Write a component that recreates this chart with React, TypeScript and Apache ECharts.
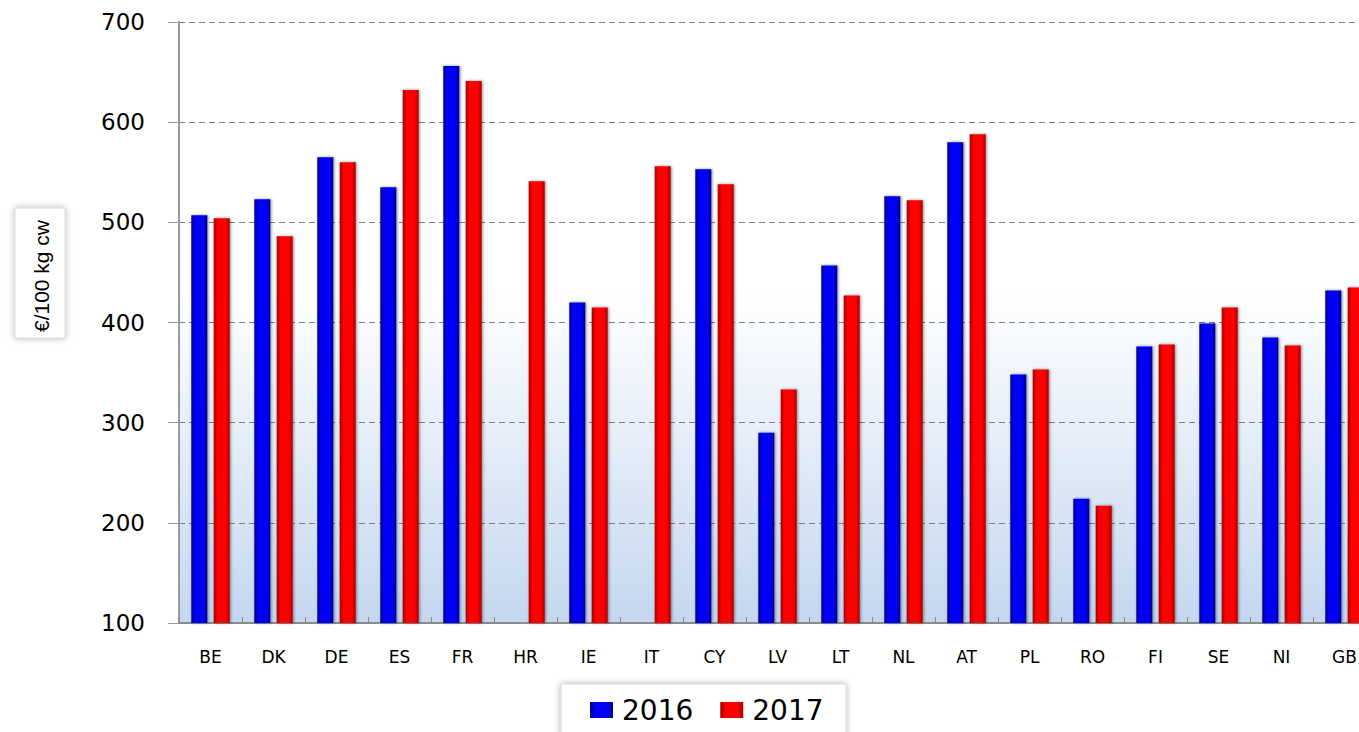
import React, { useEffect, useRef } from "react";
import * as echarts from "echarts";

const categories = ["BE", "DK", "DE", "ES", "FR", "HR", "IE", "IT", "CY", "LV", "LT", "NL", "AT", "PL", "RO", "FI", "SE", "NI", "GB"];
const values2016: (number | null)[] = [507, 523, 565, 535, 656, null, 420, null, 553, 290, 457, 526, 580, 348, 224, 376, 399, 385, 432];
const values2017: (number | null)[] = [504, 486, 560, 632, 641, 541, 415, 556, 538, 333, 427, 522, 588, 353, 217, 378, 415, 377, 435];
const seriesNames = ["2016", "2017"];
const yTicks = { min: 100, max: 700, interval: 100 };

function barGradient(edge: string, mid: string) {
  return new echarts.graphic.LinearGradient(0, 0, 1, 0, [
    { offset: 0, color: edge },
    { offset: 0.25, color: mid },
    { offset: 0.75, color: mid },
    { offset: 1, color: edge },
  ]);
}

export default function App() {
  const ref = useRef<HTMLDivElement>(null);
  useEffect(() => {
    if (!ref.current) return;
    const chart = echarts.init(ref.current, undefined, { renderer: "svg" });
    const blue = barGradient("#00008a", "#0000f6");
    const red = barGradient("#a80000", "#ff0000");
    chart.setOption({
      animation: false,
      backgroundColor: "#ffffff",
      grid: {
        left: 179,
        right: 0,
        top: 22,
        bottom: 109,
        show: true,
        borderWidth: 0,
        backgroundColor: new echarts.graphic.LinearGradient(0, 0, 0, 1, [
          { offset: 0, color: "#ffffff" },
          { offset: 0.45, color: "#ffffff" },
          { offset: 1, color: "#c4d7ef" },
        ]),
      },
      legend: {
        data: seriesNames,
        left: 590,
        top: 696,
        padding: 0,
        itemWidth: 23,
        itemHeight: 16,
        itemGap: 27,
        icon: "rect",
        z: 10,
        textStyle: {
          fontFamily: "DejaVu Sans",
          fontSize: 28,
          color: "#000",
          padding: [0, 0, 0, 4],
        },
      },
      xAxis: {
        type: "category",
        data: categories,
        axisLine: { lineStyle: { color: "#8c8c8c", width: 2 } },
        axisTick: { show: true, inside: true, length: 6, lineStyle: { color: "#8c8c8c" } },
        axisLabel: {
          fontFamily: "DejaVu Sans",
          fontSize: 17,
          color: "#000",
          margin: 25,
        },
      },
      yAxis: {
        type: "value",
        min: yTicks.min,
        max: yTicks.max,
        interval: yTicks.interval,
        axisLine: { show: true, lineStyle: { color: "#9a9a9a", width: 2 } },
        axisTick: { show: true, length: 11, lineStyle: { color: "#9a9a9a" } },
        axisLabel: {
          fontFamily: "DejaVu Sans",
          fontSize: 23,
          color: "#000",
          margin: 34,
        },
        splitLine: { lineStyle: { type: [6, 4], color: "#7f7f7f", width: 1 } },
      },
      series: [
        {
          name: seriesNames[0],
          type: "bar",
          data: values2016,
          barWidth: 16,
          barGap: "40%",
          itemStyle: {
            color: blue,
            shadowBlur: 3,
            shadowColor: "rgba(0,0,0,0.45)",
            shadowOffsetX: 1,
          },
        },
        {
          name: seriesNames[1],
          type: "bar",
          data: values2017,
          barWidth: 16,
          barGap: "40%",
          itemStyle: {
            color: red,
            shadowBlur: 3,
            shadowColor: "rgba(0,0,0,0.45)",
            shadowOffsetX: 1,
          },
        },
      ],
      graphic: [
        {
          type: "rect",
          z: 1,
          shape: { x: 561, y: 684, width: 285, height: 70 },
          style: {
            fill: "#ffffff",
            stroke: "#d9d9d9",
            lineWidth: 1,
            shadowBlur: 6,
            shadowColor: "rgba(0,0,0,0.3)",
          },
        },
        {
          type: "rect",
          z: 1,
          shape: { x: 15, y: 208, width: 50, height: 130 },
          style: {
            fill: "#ffffff",
            stroke: "#d9d9d9",
            lineWidth: 1,
            shadowBlur: 6,
            shadowColor: "rgba(0,0,0,0.3)",
          },
        },
        {
          type: "text",
          z: 2,
          x: 41,
          y: 276,
          rotation: Math.PI / 2,
          style: {
            text: "€/100 kg cw",
            fontFamily: "Liberation Sans Narrow, Liberation Sans",
            fontSize: 21,
            fill: "#000",
            align: "center",
            verticalAlign: "middle",
          },
        },
      ],
    });
    return () => chart.dispose();
  }, []);
  return (
    <div style={{ position: "fixed", left: 0, top: 0, width: 1359, height: 732, overflow: "hidden" }}>
      <div ref={ref} style={{ width: 1376, height: 732 }} />
    </div>
  );
}
